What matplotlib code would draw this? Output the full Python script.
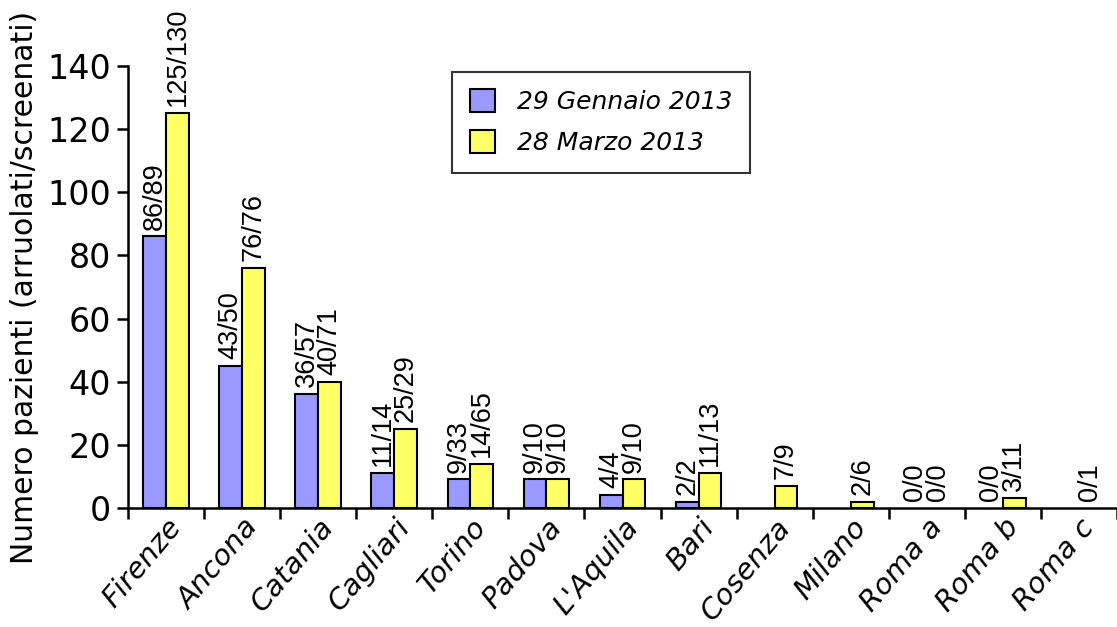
import matplotlib
matplotlib.use("Agg")
import matplotlib.pyplot as plt
import numpy as np
from matplotlib.ticker import FixedLocator

categories = ["Firenze", "Ancona", "Catania", "Cagliari", "Torino", "Padova",
              "L'Aquila", "Bari", "Cosenza", "Milano", "Roma a", "Roma b", "Roma c"]
gennaio = [86, 45, 36, 11, 9, 9, 4, 2, 0, 0, 0, 0, 0]
marzo = [125, 76, 40, 25, 14, 9, 9, 11, 7, 2, 0, 3, 0]
gennaio_labels = ["86/89", "43/50", "36/57", "11/14", "9/33", "9/10", "4/4", "2/2",
                  "", "", "0/0", "0/0", ""]
marzo_labels = ["125/130", "76/76", "40/71", "25/29", "14/65", "9/10", "9/10", "11/13",
                "7/9", "2/6", "0/0", "3/11", "0/1"]
series_names = ["29 Gennaio 2013", "28 Marzo 2013"]

fig = plt.figure(figsize=(11.17, 6.27), dpi=100)
ax = fig.add_axes([0.1146, 0.19, 0.8854, 0.7047])

x = np.arange(len(categories))
w = 0.30
b1 = ax.bar(x - w / 2, gennaio, w, color="#9999ff", edgecolor="black", linewidth=1.5,
            label=series_names[0], zorder=3)
b2 = ax.bar(x + w / 2, marzo, w, color="#ffff66", edgecolor="black", linewidth=1.5,
            label=series_names[1], zorder=3)
for bars, vals in ((b1, gennaio), (b2, marzo)):
    for r, v in zip(bars, vals):
        if v == 0:
            r.set_visible(False)

lab_font = dict(family="Liberation Sans", fontsize=19.5, rotation=90,
                ha="center", va="bottom", annotation_clip=False)
for xi, v, t in zip(x, gennaio, gennaio_labels):
    if t:
        ax.annotate(t, (xi - w / 2, v), xytext=(0, 5), textcoords="offset points", **lab_font)
for xi, v, t in zip(x, marzo, marzo_labels):
    if t:
        ax.annotate(t, (xi + w / 2, v), xytext=(0, 5), textcoords="offset points", **lab_font)

ax.set_xlim(-0.5, len(categories) - 0.5)
ax.set_ylim(0, 140)
ax.set_yticks(range(0, 141, 20))
ax.tick_params(axis="y", labelsize=24, width=1.8, length=8, direction="out", pad=4)
for lbl in ax.get_yticklabels():
    lbl.set_family("DejaVu Sans")

ax.set_xticks(x)
ax.set_xticklabels(categories, rotation=50, ha="right", rotation_mode="anchor",
                   fontsize=21, fontstyle="italic", family="DejaVu Sans")
ax.tick_params(axis="x", which="major", length=0, pad=4)
ax.xaxis.set_minor_locator(FixedLocator(np.arange(-0.5, len(categories), 1.0)))
ax.tick_params(axis="x", which="minor", length=8, width=1.8, direction="out")

for s in ["top", "right"]:
    ax.spines[s].set_visible(False)
for s in ["left", "bottom"]:
    ax.spines[s].set_linewidth(1.8)
    ax.spines[s].set_clip_on(False)

ax.set_ylabel("Numero pazienti (arruolati/screenati)", fontsize=21.5, family="DejaVu Sans",
              labelpad=6)

leg = ax.legend(loc="upper left", bbox_to_anchor=(0.315, 1.015),
                frameon=True, fancybox=False, edgecolor="black", handlelength=1.0,
                handleheight=1.0, handletextpad=0.9, borderpad=0.7, labelspacing=0.65,
                prop=dict(family="DejaVu Sans", style="italic", size=18))
leg.get_frame().set_linewidth(1.5)

fig.savefig("out.png", dpi=100)
